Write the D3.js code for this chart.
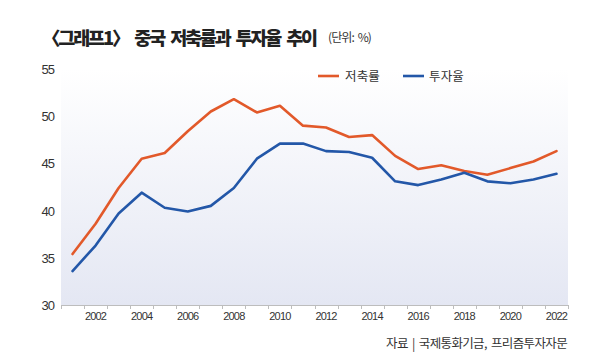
<!DOCTYPE html>
<html><head><meta charset="utf-8">
<script src="https://cdn.jsdelivr.net/npm/d3@7"></script>
<style>
html,body{margin:0;padding:0;background:#fff;}
svg{display:block;}
</style></head>
<body>
<svg id="c" width="613" height="356"></svg>
<script>
const years = d3.range(2001, 2023);
const savingRate = [35.4,38.6,42.4,45.5,46.1,48.4,50.5,51.8,50.4,51.1,49.0,48.8,47.8,48.0,45.8,44.4,44.8,44.2,43.8,44.5,45.2,46.3];
const investRate = [33.6,36.3,39.7,41.9,40.3,39.9,40.5,42.4,45.5,47.1,47.1,46.3,46.2,45.6,43.1,42.7,43.3,44.0,43.1,42.9,43.3,43.9];
const yTicks = [30,35,40,45,50,55];
const xLabelYears = d3.range(2002, 2023, 2);
const seriesNames = ["저축률","투자율"];
const colors = ["#e2592a","#2357a8"];
const title = "〈그래프1〉 중국 저축률과 투자율 추이";
const unit = "(단위: %)";
const source = "자료 | 국제통화기금, 프리즘투자자문";

const svg = d3.select("#c");
const L = 61, R = 568, T = 69, B = 305;

const x = d3.scaleBand().domain(years).range([L, R]).padding(0);
const y = d3.scaleLinear().domain([30, 55]).range([B, T]);

// fit text to a target width with letter-spacing (no glyph stretching)
function fitWidth(sel, target) {
  const n = sel.text().length;
  const w = sel.node().getComputedTextLength();
  sel.attr("letter-spacing", ((target - w) / n).toFixed(2) + "px");
}

const defs = svg.append("defs");
const g = defs.append("linearGradient").attr("id","bg").attr("x1",0).attr("y1",0).attr("x2",0).attr("y2",1);
g.append("stop").attr("offset","0%").attr("stop-color","#ffffff");
g.append("stop").attr("offset","100%").attr("stop-color","#e4e7f3");

svg.append("rect").attr("x",L).attr("y",T).attr("width",R-L).attr("height",B-T).attr("fill","url(#bg)");

// title
const tt = svg.append("text").attr("x",42).attr("y",45)
  .attr("font-family","'Noto Sans CJK KR'").attr("font-weight",900).attr("font-size",18.5)
  .attr("word-spacing","4px").attr("fill","#222").text(title);
fitWidth(tt, 274);
const ut = svg.append("text").attr("x",328).attr("y",42)
  .attr("font-family","'Noto Sans CJK KR'").attr("font-size",12)
  .attr("word-spacing","2px").attr("fill","#333").text(unit);
fitWidth(ut, 43);

// y labels
svg.append("g").selectAll("text").data(yTicks).join("text")
  .attr("x",54).attr("y",d=>y(d)+5)
  .attr("text-anchor","end").attr("font-family","'Liberation Sans'").attr("font-size",13)
  .attr("letter-spacing","-1px").attr("fill","#333").text(d=>d);

// x axis
const ax = svg.append("g").attr("transform",`translate(0,${B})`);
ax.append("line").attr("x1",L).attr("x2",R).attr("y1",0.5).attr("y2",0.5).attr("stroke","#bdbdbd");
const bounds = years.map(d=>x(d)).concat([R]);
ax.selectAll("line.tk").data(bounds).join("line").attr("class","tk")
  .attr("x1",d=>Math.round(d)+0.5).attr("x2",d=>Math.round(d)+0.5).attr("y1",0).attr("y2",4).attr("stroke","#bdbdbd");
ax.selectAll("text").data(xLabelYears).join("text")
  .attr("x",d=>x(d)+x.bandwidth()/2).attr("y",15)
  .attr("text-anchor","middle").attr("font-family","'Liberation Sans'").attr("font-size",11)
  .attr("letter-spacing","-0.8px").attr("fill","#333").text(d=>d);

// lines
const line = d3.line().x((d,i)=>x(years[i])+x.bandwidth()/2).y(d=>y(d));
[savingRate, investRate].forEach((s,k)=>{
  svg.append("path").datum(s).attr("d",line).attr("fill","none")
    .attr("stroke",colors[k]).attr("stroke-width",2.6).attr("stroke-linejoin","round").attr("stroke-linecap","round");
});

// legend
const lg = [{x:318,t:345},{x:403,t:429}];
seriesNames.forEach((n,k)=>{
  svg.append("line").attr("x1",lg[k].x).attr("x2",lg[k].x+21).attr("y1",76).attr("y2",76)
    .attr("stroke",colors[k]).attr("stroke-width",2.6);
  const t = svg.append("text").attr("x",lg[k].t).attr("y",81).attr("font-family","'Noto Sans CJK KR'")
    .attr("font-size",12.5).attr("fill","#333").text(n);
  fitWidth(t, 35);
});

// source
const st = svg.append("text").attr("x",567).attr("y",348).attr("text-anchor","end")
  .attr("font-family","'Noto Sans CJK KR'").attr("font-size",12.5).attr("fill","#333")
  .attr("word-spacing","2px").text(source);
fitWidth(st, 181);
</script>
</body></html>
